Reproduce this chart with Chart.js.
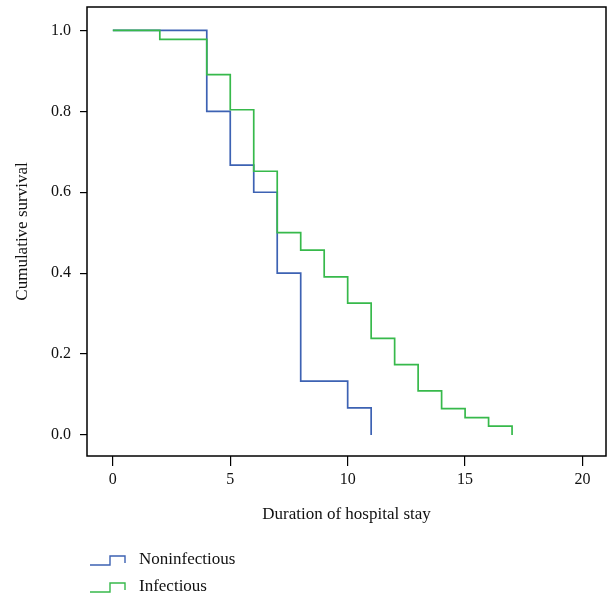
<!DOCTYPE html>
<html>
<head>
<meta charset="utf-8">
<script src="https://cdn.jsdelivr.net/npm/chart.js@4/dist/chart.umd.min.js"></script>
<style>
  html, body { margin: 0; padding: 0; background: #fff; }
  #wrap { width: 609px; height: 599px; }
</style>
</head>
<body>
<div id="wrap"><canvas id="kmChart" width="609" height="599"></canvas></div>
<script>
// Kaplan-Meier estimates
const nonTimes = [0, 4, 5, 6, 7, 8, 10, 11];
const nonSurvival = [1.0, 0.8, 0.667, 0.6, 0.4, 0.133, 0.067, 0.0];

const infTimes = [0, 2, 4, 5, 6, 7, 8, 9, 10, 11, 12, 13, 14, 15, 16, 17];
const infSurvival = [1.0, 0.978, 0.891, 0.804, 0.652, 0.5, 0.457, 0.391, 0.326, 0.239, 0.174, 0.109, 0.065, 0.043, 0.022, 0.0];

const xTicks = [0, 5, 10, 15, 20];
const yTicks = [0.0, 0.2, 0.4, 0.6, 0.8, 1.0];

const blue = '#3d62b3';
const green = '#37b94b';
const fontFamily = '"Liberation Serif", "DejaVu Serif", serif';

function toPoints(times, values) {
    return times.map((t, i) => ({ x: t, y: values[i] }));
}

// box round the plot area
const frame = {
    id: 'frame',
    afterDraw(chart) {
        const { ctx, chartArea: a } = chart;
        ctx.save();
        ctx.strokeStyle = '#000';
        ctx.lineWidth = 1.5;
        ctx.strokeRect(a.left, a.top, a.right - a.left, a.bottom - a.top);
        ctx.restore();
    }
};

// legend with little step icons, bottom left
const stepLegend = {
    id: 'stepLegend',
    afterDraw(chart) {
        const ctx = chart.ctx;
        ctx.save();
        ctx.font = '17px ' + fontFamily;
        ctx.textBaseline = 'middle';
        ctx.fillStyle = '#111';
        chart.data.datasets.forEach((ds, i) => {
            const y = 560 + i * 27;
            ctx.strokeStyle = ds.borderColor;
            ctx.lineWidth = 1.4;
            ctx.beginPath();
            ctx.moveTo(90, y + 5);
            ctx.lineTo(110, y + 5);
            ctx.lineTo(110, y - 4);
            ctx.lineTo(125, y - 4);
            ctx.lineTo(125, y + 3);
            ctx.stroke();
            ctx.fillText(ds.label, 139, y);
        });
        ctx.restore();
    }
};

new Chart(document.getElementById('kmChart'), {
    type: 'line',
    data: {
        datasets: [
            {
                label: 'Noninfectious',
                data: toPoints(nonTimes, nonSurvival),
                borderColor: blue,
                borderWidth: 1.7,
                stepped: 'before',
                pointRadius: 0,
                fill: false,
                order: 1
            },
            {
                label: 'Infectious',
                data: toPoints(infTimes, infSurvival),
                borderColor: green,
                borderWidth: 1.7,
                stepped: 'before',
                pointRadius: 0,
                fill: false,
                order: 0
            }
        ]
    },
    options: {
        responsive: false,
        animation: false,
        layout: { padding: { top: 7, right: 3, bottom: 74, left: 0 } },
        plugins: {
            legend: { display: false },
            tooltip: { enabled: false }
        },
        scales: {
            x: {
                type: 'linear',
                min: -1.1,
                max: 21,
                afterBuildTicks: s => { s.ticks = xTicks.map(v => ({ value: v })); },
                afterFit: s => { s.height = 69; s.paddingLeft = 0; s.paddingRight = 0; },
                grid: { display: true, drawOnChartArea: false, color: '#000', tickLength: 10, lineWidth: 1.2 },
                border: { display: false },
                ticks: { color: '#111', font: { family: fontFamily, size: 16 }, padding: 4 },
                title: { display: true, text: 'Duration of hospital stay', color: '#111', font: { family: fontFamily, size: 17 }, padding: 0 }
            },
            y: {
                min: -0.052,
                max: 1.058,
                afterBuildTicks: s => { s.ticks = yTicks.map(v => ({ value: v })); },
                afterFit: s => { s.width = 87; s.paddingTop = 0; s.paddingBottom = 0; },
                grid: { display: true, drawOnChartArea: false, color: '#000', tickLength: 7, lineWidth: 1.2 },
                border: { display: false },
                ticks: { color: '#111', font: { family: fontFamily, size: 16 }, padding: 9, callback: v => v.toFixed(1) },
                title: { display: true, text: 'Cumulative survival', color: '#111', font: { family: fontFamily, size: 17 }, padding: { top: 12, bottom: 0 } }
            }
        }
    },
    plugins: [frame, stepLegend]
});
</script>
</body>
</html>
